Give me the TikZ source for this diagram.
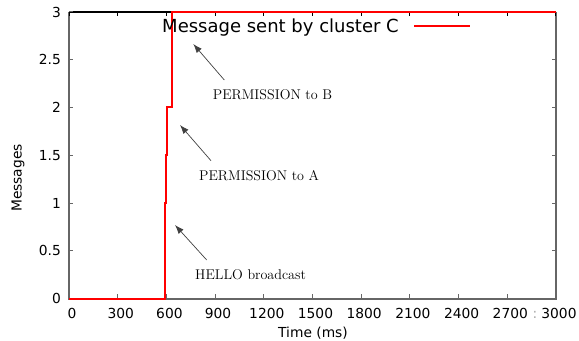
\documentclass[tikz,border=0pt]{standalone}
\usepackage{fontspec}
\newfontfamily\gpfont{DejaVu Sans}
\usetikzlibrary{arrows.meta}

\begin{document}
\begin{tikzpicture}[x=1bp, y=1bp,
  ticklbl/.style={font=\gpfont\fontsize{13.8bp}{16bp}\selectfont, inner sep=0pt},
  keylbl/.style={font=\gpfont\fontsize{18bp}{21bp}\selectfont, inner sep=0pt},
  annot/.style={font=\fontsize{14.1bp}{17bp}\selectfont, inner sep=0pt, anchor=base west},
  pointer/.style={-{Latex[length=9bp,width=6.5bp]}, black!75, line width=0.7bp},
  courbe/.style={red, line width=2bp},
  cadre/.style={black!60, line width=2bp}]
  \useasboundingbox (0,0) rectangle (579,340);

  % Repere : 0 ms -> x=69, 3000 ms -> x=556 ; 0 -> y=41.5, 3 -> y=328
  \begin{scope}[shift={(69,41.5)}, x=0.162333bp, y=95.5bp]
    % Cadre
    \draw[cadre] (0,3) -- (0,0) -- (3000,0) -- (3000,3);
    \draw[black, line width=1.1bp] (0,3) -- (3000,3);

    % Graduations en x
    \foreach \t in {0,300,...,3000} {
      \draw[black!60, line width=1bp] (\t,0) -- ++(0,5bp);
      \draw[black, line width=1bp] (\t,3) -- ++(0,-4bp);
      \node[ticklbl, anchor=base] (xl\t) at (\t,0) [xshift=3bp, yshift=-19.5bp] {\t};
    }

    % Graduations en y
    \foreach \v [count=\k] in {0,0.5,1,1.5,2,2.5,3} {
      \draw[black!60, line width=1bp] (0,\v) -- ++(4bp,0);
      \draw[black!60, line width=1bp] (3000,\v) -- ++(-4bp,0);
      \node[ticklbl, anchor=east] (yl\k) at (0,\v) [xshift=-8bp] {\v};
    }

    % Messages envoyes
    \draw[courbe] (0,0) -- (590,0) -- (590,1) -- (598,1) -- (598,1.5)
      -- (605,1.5) -- (605,2) -- (635,2) -- (635,3) -- (3000,3);
  \end{scope}

  % Titres des axes
  \node[ticklbl] (xtitle) at (313,3) [anchor=base] {Time (ms)};
  \node[ticklbl, rotate=90] (ytitle) at (18,162) {Messages};
  \node[ticklbl, black!35] (glitch) at (535,22) [anchor=base] {:};

  % Legende
  \node[keylbl, anchor=base east] (cle) at (399,308) {Message sent by cluster C};
  \draw[courbe] ([xshift=15bp, yshift=6bp]cle.base east) -- ++(56bp,0);

  % Annotations
  \node[annot] (hello) at (195,61) {HELLO broadcast};
  \node[annot] (permA) at (199,160) {PERMISSION to A};
  \node[annot] (permB) at (212.7,241) {PERMISSION to B};

  \coordinate (helloTail) at (206.7,80);
  \coordinate (helloTip) at (175,115);
  \coordinate (permATail) at (211,179.3);
  \coordinate (permATip) at (180,215);
  \coordinate (permBTail) at (224.3,260);
  \coordinate (permBTip) at (193.3,296);

  \draw[pointer] (helloTail) -- (helloTip);
  \draw[pointer] (permATail) -- (permATip);
  \draw[pointer] (permBTail) -- (permBTip);
\end{tikzpicture}
\end{document}
